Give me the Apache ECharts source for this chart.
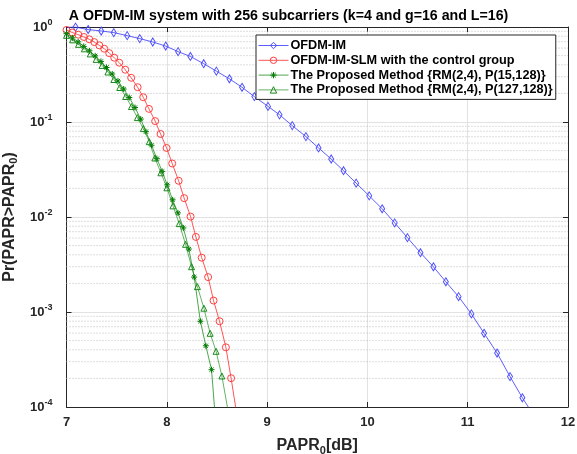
<!DOCTYPE html>
<html><head><meta charset="utf-8">
<script src="https://cdn.jsdelivr.net/npm/echarts@6/dist/echarts.min.js"></script>
<style>html,body{margin:0;padding:0;background:#fff}#c{width:577px;height:454px}</style>
</head><body><div id="c"></div>
<script>
const titleText = 'A OFDM-IM system with 256 subcarriers (k=4 and g=16 and L=16)';
const seriesNames = [
  'OFDM-IM',
  'OFDM-IM-SLM with the control group',
  'The Proposed Method {RM(2,4), P(15,128)}',
  'The Proposed Method {RM(2,4), P(127,128)}'
];
const xTicks = [7, 8, 9, 10, 11, 12];
const yTickExponents = [0, -1, -2, -3, -4];

const paprOfdmIm = [6.963, 7.09, 7.216, 7.346, 7.471, 7.605, 7.730, 7.860, 7.989, 8.113, 8.235, 8.368, 8.494, 8.624, 8.750, 8.873, 9.009, 9.124, 9.251, 9.387, 9.513, 9.639, 9.762, 9.888, 10.018, 10.147, 10.272, 10.399, 10.529, 10.658, 10.782, 10.909, 11.037, 11.163, 11.293, 11.422, 11.545, 11.672];
const ccdfOfdmIm = [1.0, 0.998, 0.94, 0.908, 0.873, 0.811, 0.755, 0.695, 0.630, 0.550, 0.490, 0.411, 0.343, 0.285, 0.232, 0.185, 0.146, 0.119, 0.0916, 0.0702, 0.0533, 0.0408, 0.0307, 0.0227, 0.0167, 0.0122, 0.00867, 0.00606, 0.00421, 0.00299, 0.00208, 0.00145, 0.000955, 0.000597, 0.00037, 0.000209, 0.000125, 0.0000776];

const paprSlm = [7.0, 7.058, 7.118, 7.174, 7.227, 7.277, 7.327, 7.376, 7.426, 7.476, 7.526, 7.586, 7.645, 7.709, 7.765, 7.822, 7.884, 7.938, 7.998, 8.054, 8.118, 8.173, 8.237, 8.290, 8.348, 8.412, 8.466, 8.526, 8.589, 8.641, 8.698];
const ccdfSlm = [0.93, 0.875, 0.83, 0.785, 0.742, 0.694, 0.641, 0.591, 0.531, 0.475, 0.421, 0.355, 0.292, 0.2325, 0.1823, 0.1375, 0.1022, 0.0748, 0.0533, 0.0366, 0.02405, 0.0158, 0.0101, 0.00617, 0.00373, 0.00233, 0.00132, 0.000799, 0.000425, 0.000201, 0.0000834];

const paprP15 = [7.0, 7.059, 7.116, 7.172, 7.229, 7.286, 7.343, 7.399, 7.456, 7.513, 7.570, 7.626, 7.683, 7.740, 7.792, 7.847, 7.901, 7.954, 8.004, 8.058, 8.111, 8.165, 8.220, 8.273, 8.335, 8.389, 8.446, 8.503];
const ccdfP15 = [0.852, 0.769, 0.698, 0.625, 0.561, 0.497, 0.434, 0.375, 0.320, 0.270, 0.2225, 0.181, 0.142, 0.1073, 0.0791, 0.0570, 0.0411, 0.0302, 0.0218, 0.01516, 0.01105, 0.00767, 0.00460, 0.00233, 0.000799, 0.000441, 0.000247, 0.0000422];

const paprP127 = [7.0, 7.061, 7.120, 7.178, 7.237, 7.296, 7.355, 7.413, 7.472, 7.531, 7.590, 7.648, 7.707, 7.766, 7.825, 7.881, 7.941, 8.001, 8.061, 8.124, 8.187, 8.247, 8.305, 8.370, 8.432, 8.491, 8.549, 8.614];
const ccdfP127 = [0.817, 0.733, 0.657, 0.589, 0.521, 0.456, 0.394, 0.336, 0.280, 0.2308, 0.1854, 0.1454, 0.1113, 0.0852, 0.0621, 0.0418, 0.0292, 0.0203, 0.0131, 0.00852, 0.00516, 0.00300, 0.00185, 0.001097, 0.000597, 0.000386, 0.000212, 0.0000875];

const FONT = '"Liberation Sans", Arial, Helvetica, sans-serif';
const zip = (xs, ys) => xs.map((x, i) => [x, ys[i]]);
const xMin = xTicks[0], xMax = xTicks[xTicks.length - 1];

// minor grid lines at 2..9 x 10^k, drawn as plain dotted lines through the axes
const minorSeries = [];
for (let e = -4; e < 0; e++) {
  for (let m = 2; m <= 9; m++) {
    const v = m * Math.pow(10, e);
    minorSeries.push({
      type: 'line', data: [[xMin, v], [xMax, v]], silent: true, z: 1, symbol: 'none',
      lineStyle: { color: '#bcbcbc', width: 1, type: [1, 2] }, animation: false, legendHoverLink: false
    });
  }
}

const starPath = 'path://M5,0L5,10M0,5L10,5M1.5,1.5L8.5,8.5M1.5,8.5L8.5,1.5';

function mk(name, xs, ys, color, lineColor, symbol, size, z) {
  return {
    name: name, type: 'line', data: zip(xs, ys), clip: true, z: z,
    symbol: symbol, symbolSize: size, showAllSymbol: true,
    lineStyle: { color: lineColor, width: 1 },
    itemStyle: { color: 'rgba(0,0,0,0)', borderColor: color, borderWidth: 1 },
    emphasis: { disabled: true }, animation: false
  };
}

const chart = echarts.init(document.getElementById('c'), null, { renderer: 'canvas' });
const axisCol = '#262626';
chart.setOption({
  backgroundColor: '#fff',
  animation: false,
  title: {
    text: titleText, left: 'center', top: 4,
    textStyle: { fontFamily: FONT, fontSize: 14.2, fontWeight: 'bold', color: '#000' }
  },
  grid: { left: 66.5, right: 9, top: 27, bottom: 47, show: false, outerBoundsMode: 'none', containLabel: false },
  legend: {
    orient: 'vertical', left: 256, top: 35,
    data: seriesNames,
    itemWidth: 30, itemHeight: 8, itemGap: 1.8,
    padding: [4, 3, 3, 2],
    backgroundColor: '#fff', borderColor: axisCol, borderWidth: 1,
    itemStyle: { borderWidth: 1 },
    lineStyle: { width: 1 },
    textStyle: { fontFamily: FONT, fontSize: 12.7, fontWeight: 'bold', color: '#000', padding: [0, 0, 0, -3] },
    selectedMode: false
  },
  xAxis: [{
    type: 'value', min: xMin, max: xMax, interval: 1, position: 'bottom',
    axisLine: { show: true, onZero: false, lineStyle: { color: axisCol, width: 1 } },
    axisTick: { show: true, inside: true, length: 5, lineStyle: { color: axisCol } },
    axisLabel: { margin: 9, fontFamily: FONT, fontSize: 13, fontWeight: 'bold', color: axisCol,
      formatter: v => xTicks.indexOf(v) >= 0 ? String(v) : '' },
    splitLine: { show: true, lineStyle: { color: '#e2e2e2', width: 1 } },
    name: '{a|PAPR}{s|0}{a|[dB]}', nameLocation: 'middle', nameGap: 29,
    nameTextStyle: { rich: {
      a: { fontFamily: FONT, fontSize: 16, fontWeight: 'bold', color: axisCol },
      s: { fontFamily: FONT, fontSize: 11, fontWeight: 'bold', color: axisCol, padding: [9, 0, 0, 0] }
    } }
  }, {
    type: 'value', min: xMin, max: xMax, interval: 1, position: 'top',
    axisLine: { show: true, onZero: false, lineStyle: { color: axisCol, width: 1 } },
    axisTick: { show: true, inside: true, length: 5, lineStyle: { color: axisCol } },
    axisLabel: { show: false }, splitLine: { show: false }
  }],
  yAxis: [{
    type: 'log', logBase: 10, min: 1e-4, max: 1, position: 'left',
    axisLine: { show: true, onZero: false, lineStyle: { color: axisCol, width: 1 } },
    axisTick: { show: true, inside: true, length: 5, lineStyle: { color: axisCol } },
    axisLabel: {
      margin: 14, color: axisCol,
      formatter: v => {
        const e = Math.round(Math.log10(v));
        return yTickExponents.indexOf(e) >= 0 ? '{b|10}{s|' + e + '}' : '';
      },
      rich: {
        b: { fontFamily: FONT, fontSize: 13, fontWeight: 'bold', color: axisCol },
        s: { fontFamily: FONT, fontSize: 9, fontWeight: 'bold', color: axisCol, padding: [0, 0, 9, 0] }
      }
    },
    splitLine: { show: true, lineStyle: { color: '#e2e2e2', width: 1 } },
    name: '{a|Pr(PAPR>PAPR}{s|0}{a|)}', nameLocation: 'middle', nameGap: 46, nameRotate: 90,
    nameTextStyle: { rich: {
      a: { fontFamily: FONT, fontSize: 16, fontWeight: 'bold', color: axisCol },
      s: { fontFamily: FONT, fontSize: 11, fontWeight: 'bold', color: axisCol, padding: [9, 0, 0, 0] }
    } }
  }, {
    type: 'log', logBase: 10, min: 1e-4, max: 1, position: 'right',
    axisLine: { show: true, onZero: false, lineStyle: { color: axisCol, width: 1 } },
    axisTick: { show: true, inside: true, length: 5, lineStyle: { color: axisCol } },
    axisLabel: { show: false }, splitLine: { show: false }
  }],
  series: minorSeries.concat([
    mk(seriesNames[0], paprOfdmIm, ccdfOfdmIm, '#4d4dff', 'rgba(40,40,255,0.75)', 'diamond', [5, 8], 3),
    mk(seriesNames[1], paprSlm, ccdfSlm, '#ff4040', 'rgba(255,30,30,0.75)', 'circle', 7, 4),
    mk(seriesNames[2], paprP15, ccdfP15, '#007a00', 'rgba(0,128,0,0.7)', starPath, 6, 5),
    mk(seriesNames[3], paprP127, ccdfP127, '#1a8a1a', 'rgba(0,128,0,0.6)', 'triangle', 6, 6)
  ])
});
</script></body></html>
